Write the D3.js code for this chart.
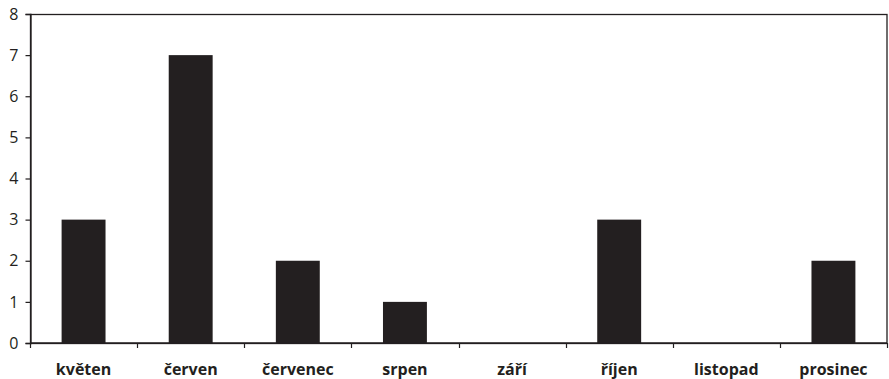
<!DOCTYPE html>
<html>
<head>
<meta charset="utf-8">
<script src="https://cdn.jsdelivr.net/npm/d3@7"></script>
<style>
  html, body { margin: 0; padding: 0; background: #fff; }
  svg { display: block; }
  text { font-family: "Open Sans", "Noto Sans", sans-serif; fill: #231f20; }
</style>
</head>
<body>
<svg id="chart" width="889" height="379"></svg>
<script>
// Monthly counts
const months = ["květen", "červen", "červenec", "srpen", "září", "říjen", "listopad", "prosinec"];
const counts = [3, 7, 2, 1, 0, 3, 0, 2];
const yTicks = [0, 1, 2, 3, 4, 5, 6, 7, 8];

const ink = "#231f20";
const margin = { top: 14, right: 2, bottom: 36, left: 30 };
const width = 889, height = 379;
const svg = d3.select("#chart");

const x = d3.scaleBand()
  .domain(months)
  .range([margin.left, width - margin.right])
  .paddingInner(0.59)
  .paddingOuter(0.295);

const band = d3.scaleBand()
  .domain(months)
  .range([margin.left, width - margin.right]);

const y = d3.scaleLinear()
  .domain([0, 8])
  .range([height - margin.bottom, margin.top]);

// Plot frame
svg.append("rect")
  .attr("x", margin.left + 0.5)
  .attr("y", margin.top + 0.5)
  .attr("width", width - margin.right - margin.left - 0.5)
  .attr("height", height - margin.bottom - margin.top)
  .attr("fill", "none")
  .attr("stroke", ink)
  .attr("stroke-width", 1.3);

// Bars
svg.append("g")
  .selectAll("rect")
  .data(months.map((m, i) => ({ m, v: counts[i] })))
  .join("rect")
  .attr("x", d => x(d.m))
  .attr("y", d => y(d.v))
  .attr("width", x.bandwidth())
  .attr("height", d => y(0) - y(d.v))
  .attr("fill", ink);

// Y axis
const yAxis = svg.append("g")
  .attr("transform", `translate(${margin.left + 0.5},0)`)
  .call(d3.axisLeft(y).tickValues(yTicks).tickFormat(d3.format("d")).tickSize(5).tickPadding(7));
yAxis.select(".domain").attr("stroke", ink).attr("stroke-width", 1.3);
yAxis.selectAll(".tick line").attr("stroke", ink).attr("stroke-width", 1.2);
yAxis.selectAll(".tick text")
  .style("font-family", '"Open Sans", "Noto Sans", sans-serif')
  .style("font-size", "16px")
  .attr("fill", ink);

// X axis: ticks at category boundaries, labels centred on categories
const xg = svg.append("g").attr("transform", `translate(0,${y(0)})`);
xg.append("line")
  .attr("x1", margin.left).attr("x2", width - margin.right)
  .attr("stroke", ink).attr("stroke-width", 1.5);
const bounds = months.map(m => band(m)).concat([band(months[months.length - 1]) + band.bandwidth()]);
xg.selectAll("line.tk")
  .data(bounds)
  .join("line")
  .attr("class", "tk")
  .attr("x1", d => Math.round(d) + 0.5).attr("x2", d => Math.round(d) + 0.5)
  .attr("y1", 0).attr("y2", 5)
  .attr("stroke", ink).attr("stroke-width", 1.2);
xg.selectAll("text")
  .data(months)
  .join("text")
  .attr("x", d => band(d) + band.bandwidth() / 2)
  .attr("y", 32)
  .attr("text-anchor", "middle")
  .style("font-size", "16px")
  .style("font-weight", "bold")
  .text(d => d);
</script>
</body>
</html>
